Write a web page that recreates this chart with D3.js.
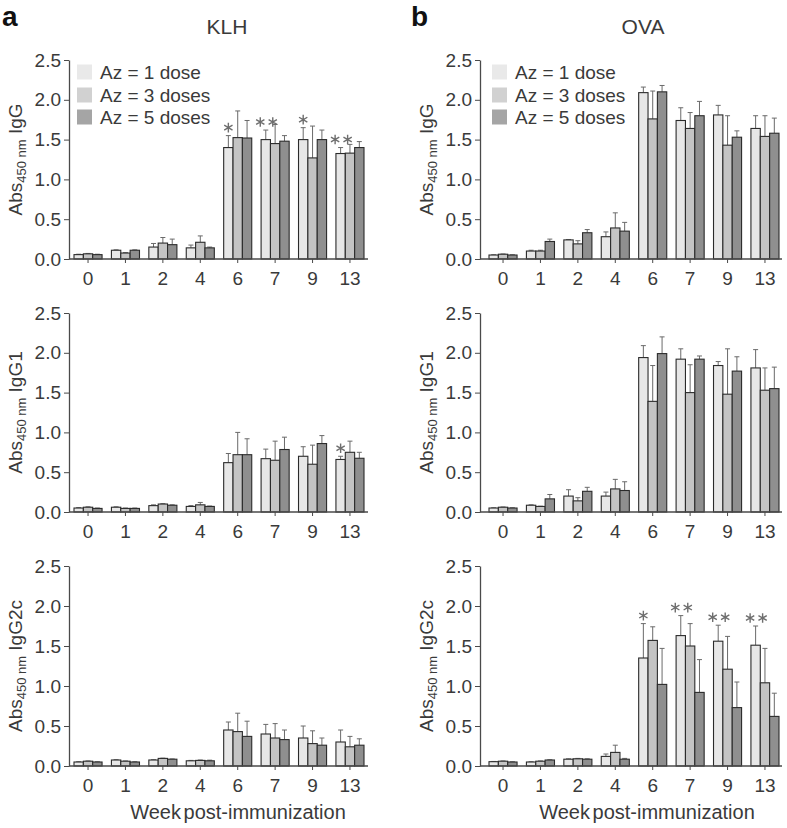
<!DOCTYPE html>
<html>
<head>
<meta charset="utf-8">
<script src="https://cdn.jsdelivr.net/npm/d3@7"></script>
<style>
  body { margin: 0; background: #fff; }
  text { font-family: "Liberation Sans", Arial, sans-serif; fill: #3a3a3a; }
</style>
</head>
<body>
<script>
// ---------------- data ----------------
const weeks = ["0", "1", "2", "4", "6", "7", "9", "13"];
const doseGroups = ["Az = 1 dose", "Az = 3 doses", "Az = 5 doses"];
const yTicks = [0, 0.5, 1.0, 1.5, 2.0, 2.5];
const antigens = ["KLH", "OVA"];
const isotypes = ["IgG", "IgG1", "IgG2c"];

// KLH IgG  (rows: 1 dose, 3 doses, 5 doses)
const klhIgG_mean = [
  [0.055, 0.11, 0.15, 0.14, 1.40, 1.50, 1.50, 1.325],
  [0.065, 0.075, 0.20, 0.21, 1.525, 1.45, 1.27, 1.33],
  [0.055, 0.11, 0.18, 0.14, 1.52, 1.48, 1.50, 1.40]
];
const klhIgG_sd = [
  [0.005, 0.005, 0.045, 0.035, 0.15, 0.12, 0.15, 0.075],
  [0.005, 0.005, 0.07, 0.08, 0.335, 0.24, 0.40, 0.11],
  [0.005, 0.005, 0.07, 0.01, 0.22, 0.07, 0.12, 0.075]
];
const klhIgG_sig = [["6", 1], ["7", 2], ["9", 1], ["13", 2]];

// KLH IgG1
const klhIgG1_mean = [
  [0.05, 0.06, 0.08, 0.07, 0.62, 0.67, 0.70, 0.66],
  [0.06, 0.045, 0.10, 0.09, 0.72, 0.65, 0.60, 0.75],
  [0.045, 0.045, 0.085, 0.07, 0.72, 0.785, 0.86, 0.675]
];
const klhIgG1_sd = [
  [0.005, 0.005, 0.01, 0.01, 0.115, 0.12, 0.12, 0.04],
  [0.005, 0.005, 0.005, 0.03, 0.28, 0.24, 0.24, 0.14],
  [0.005, 0.005, 0.005, 0.005, 0.20, 0.155, 0.10, 0.075]
];
const klhIgG1_sig = [["13", 1]];

// KLH IgG2c
const klhIgG2c_mean = [
  [0.05, 0.075, 0.075, 0.065, 0.45, 0.40, 0.35, 0.30],
  [0.06, 0.06, 0.095, 0.07, 0.43, 0.35, 0.28, 0.24],
  [0.05, 0.05, 0.085, 0.065, 0.37, 0.33, 0.26, 0.26]
];
const klhIgG2c_sd = [
  [0.003, 0.003, 0.003, 0.005, 0.10, 0.12, 0.15, 0.15],
  [0.003, 0.003, 0.003, 0.005, 0.23, 0.18, 0.16, 0.13],
  [0.003, 0.003, 0.003, 0.008, 0.19, 0.12, 0.09, 0.08]
];
const klhIgG2c_sig = [];

// OVA IgG
const ovaIgG_mean = [
  [0.05, 0.10, 0.24, 0.28, 2.09, 1.74, 1.81, 1.64],
  [0.06, 0.10, 0.19, 0.39, 1.76, 1.64, 1.43, 1.54],
  [0.05, 0.22, 0.33, 0.35, 2.10, 1.80, 1.53, 1.58]
];
const ovaIgG_sd = [
  [0.003, 0.01, 0.005, 0.06, 0.07, 0.16, 0.12, 0.16],
  [0.003, 0.01, 0.04, 0.19, 0.35, 0.20, 0.37, 0.26],
  [0.003, 0.03, 0.04, 0.11, 0.08, 0.18, 0.08, 0.19]
];
const ovaIgG_sig = [];

// OVA IgG1
const ovaIgG1_mean = [
  [0.05, 0.085, 0.20, 0.20, 1.94, 1.92, 1.84, 1.81],
  [0.06, 0.07, 0.14, 0.29, 1.39, 1.50, 1.48, 1.53],
  [0.05, 0.165, 0.26, 0.27, 1.99, 1.92, 1.77, 1.55]
];
const ovaIgG1_sd = [
  [0.003, 0.005, 0.08, 0.05, 0.15, 0.13, 0.05, 0.23],
  [0.003, 0.003, 0.04, 0.12, 0.45, 0.35, 0.57, 0.28],
  [0.003, 0.055, 0.05, 0.11, 0.21, 0.04, 0.18, 0.27]
];
const ovaIgG1_sig = [];

// OVA IgG2c
const ovaIgG2c_mean = [
  [0.054, 0.05, 0.085, 0.12, 1.35, 1.63, 1.56, 1.51],
  [0.06, 0.06, 0.09, 0.17, 1.57, 1.50, 1.21, 1.04],
  [0.05, 0.075, 0.085, 0.085, 1.02, 0.92, 0.73, 0.62]
];
const ovaIgG2c_sd = [
  [0.003, 0.003, 0.005, 0.03, 0.43, 0.25, 0.20, 0.24],
  [0.003, 0.003, 0.005, 0.09, 0.17, 0.28, 0.41, 0.43],
  [0.003, 0.003, 0.005, 0.01, 0.45, 0.41, 0.32, 0.29]
];
const ovaIgG2c_sig = [["6", 1], ["7", 2], ["9", 2], ["13", 2]];

// ---------------- layout / style ----------------
const W = 787, H = 828;
const barFill = ["#e7e7e7", "#c4c4c4", "#8f8f8f"];
const legendFill = ["#e9e9e9", "#d1d1d1", "#a5a5a5"];
const cols = [
  { axisX: 69, axisEnd: 368, g0: 74, g1: 364, title: 227, letter: 2, xTitle: 238 },
  { axisX: 480, axisEnd: 782, g0: 489, g1: 779, title: 643, letter: 411, xTitle: 647 }
];
const rows = [
  { top: 60, bottom: 259 },
  { top: 313, bottom: 512 },
  { top: 566, bottom: 766 }
];

const panels = [
  { c: 0, r: 0, mean: klhIgG_mean, sd: klhIgG_sd, sig: klhIgG_sig },
  { c: 0, r: 1, mean: klhIgG1_mean, sd: klhIgG1_sd, sig: klhIgG1_sig },
  { c: 0, r: 2, mean: klhIgG2c_mean, sd: klhIgG2c_sd, sig: klhIgG2c_sig },
  { c: 1, r: 0, mean: ovaIgG_mean, sd: ovaIgG_sd, sig: ovaIgG_sig },
  { c: 1, r: 1, mean: ovaIgG1_mean, sd: ovaIgG1_sd, sig: ovaIgG1_sig },
  { c: 1, r: 2, mean: ovaIgG2c_mean, sd: ovaIgG2c_sd, sig: ovaIgG2c_sig }
];

const svg = d3.select("body").append("svg").attr("width", W).attr("height", H);

// panel letters and titles
cols.forEach((col, c) => {
  svg.append("text").attr("x", col.letter).attr("y", 26)
    .style("font-size", "28px").style("font-weight", "bold").style("fill", "#111")
    .text(c === 0 ? "a" : "b");
  svg.append("text").attr("x", col.title).attr("y", 34).attr("text-anchor", "middle")
    .style("font-size", "21px").text(antigens[c]);
  svg.append("text").attr("x", col.xTitle).attr("y", 819).attr("text-anchor", "middle")
    .style("font-size", "20px").style("word-spacing", "-3px").text("Week post-immunization");
});

function starPath(r) {
  let p = "";
  for (let k = 0; k < 3; k++) {
    const a = Math.PI / 2 + k * Math.PI / 3;
    const dx = r * Math.cos(a), dy = r * Math.sin(a);
    p += `M${-dx},${-dy}L${dx},${dy}`;
  }
  return p;
}

panels.forEach(p => {
  const col = cols[p.c], row = rows[p.r];
  const g = svg.append("g");
  const y = d3.scaleLinear().domain([0, 2.5]).range([row.bottom, row.top]);
  const x = d3.scaleBand().domain(weeks).range([col.g0, col.g1]).paddingInner(0.25).paddingOuter(0);
  const xi = d3.scaleBand().domain([0, 1, 2]).range([0, x.bandwidth()]).padding(0);

  const recs = [];
  weeks.forEach((w, i) => {
    for (let j = 0; j < 3; j++) recs.push({ w, j, v: p.mean[j][i], e: p.sd[j][i] });
  });

  // error bars (upper)
  const eg = g.append("g").attr("stroke", "#6a6a6a").attr("stroke-width", 1).attr("fill", "none");
  recs.forEach(d => {
    const cx = x(d.w) + xi(d.j) + xi.bandwidth() / 2;
    eg.append("line").attr("x1", cx).attr("x2", cx).attr("y1", y(d.v)).attr("y2", y(d.v + d.e));
    eg.append("line").attr("x1", cx - 2.5).attr("x2", cx + 2.5).attr("y1", y(d.v + d.e)).attr("y2", y(d.v + d.e));
  });

  // bars
  g.append("g").selectAll("rect").data(recs).join("rect")
    .attr("x", d => x(d.w) + xi(d.j))
    .attr("y", d => y(d.v))
    .attr("width", xi.bandwidth())
    .attr("height", d => y(0) - y(d.v))
    .attr("fill", d => barFill[d.j])
    .attr("stroke", "#2b2b2b").attr("stroke-width", 1.1);

  // significance stars
  p.sig.forEach(([w, n]) => {
    const i = weeks.indexOf(w);
    const top = p.mean[0][i] + p.sd[0][i];
    const bx = x(w) + xi(0) + xi.bandwidth() / 2;
    const offs = n === 1 ? [0] : [-5.5, 7];
    offs.forEach(o => {
      g.append("path").attr("d", starPath(4.8))
        .attr("transform", `translate(${bx + o},${y(top) - 8})`)
        .attr("stroke", "#6e6e6e").attr("stroke-width", 1.4).attr("fill", "none");
    });
  });

  // x axis
  g.append("line").attr("x1", col.axisX).attr("x2", col.axisEnd)
    .attr("y1", row.bottom).attr("y2", row.bottom)
    .attr("stroke", "#4a4a4a").attr("stroke-width", 1.3);
  const xa = g.append("g").attr("transform", `translate(0,${row.bottom})`)
    .call(d3.axisBottom(x).tickSize(4).tickPadding(9));
  xa.select(".domain").remove();
  xa.selectAll("line").attr("stroke", "#4a4a4a");
  xa.selectAll("text").style("font-size", "19px").attr("fill", null);
  xa.attr("font-family", null).attr("font-size", null);

  // y axis
  const ya = g.append("g").attr("transform", `translate(${col.axisX},0)`)
    .call(d3.axisLeft(y).tickValues(yTicks).tickFormat(d3.format(".1f"))
      .tickSize(5).tickSizeOuter(0).tickPadding(3));
  ya.select(".domain").attr("stroke", "#4a4a4a").attr("stroke-width", 1.3);
  ya.selectAll("line").attr("stroke", "#4a4a4a");
  ya.selectAll("text").style("font-size", "19px").attr("fill", null);
  ya.attr("font-family", null).attr("font-size", null);

  // y label
  const cy = (row.top + row.bottom) / 2;
  const lab = g.append("text")
    .attr("transform", `translate(${col.axisX - 47},${cy}) rotate(-90)`)
    .attr("text-anchor", "middle").style("font-size", "19px");
  lab.append("tspan").text("Abs");
  lab.append("tspan").attr("dy", 4).style("font-size", "13px").text("450 nm");
  lab.append("tspan").attr("dy", -4).text(" " + isotypes[p.r]);

  // legend (top row only)
  if (p.r === 0) {
    const lx = p.c === 0 ? 77 : 492;
    const rowsY = [72, 95, 117];
    doseGroups.forEach((name, j) => {
      g.append("rect").attr("x", lx).attr("y", rowsY[j] - 7.5).attr("width", 15).attr("height", 15)
        .attr("fill", legendFill[j]);
      g.append("text").attr("x", lx + 23).attr("y", rowsY[j] + 7)
        .style("font-size", "19px").text(name);
    });
  }
});
</script>
</body>
</html>
